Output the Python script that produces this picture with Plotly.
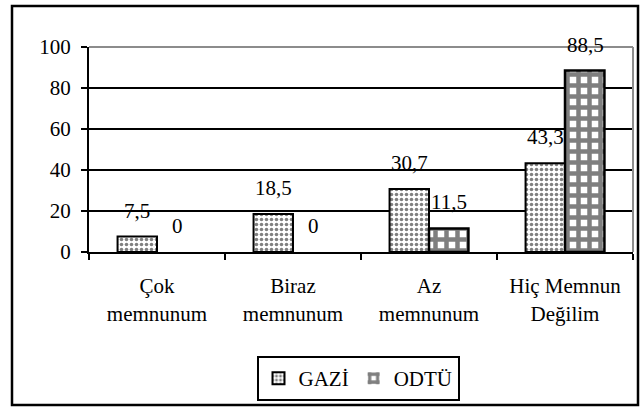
import plotly.graph_objects as go

categories = ["Çok memnunum", "Biraz memnunum", "Az memnunum", "Hiç Memnun Değilim"]
tick_labels = ["Çok<br>memnunum", "Biraz<br>memnunum", "Az<br>memnunum", "Hiç Memnun<br>Değilim"]
series_names = ["GAZİ", "ODTÜ"]
gazi_values = [7.5, 18.5, 30.7, 43.3]
odtu_values = [0, 0, 11.5, 88.5]
y_ticks = [0, 20, 40, 60, 80, 100]

FONT = "Liberation Serif, DejaVu Serif, serif"
W, H = 640, 408
L, R, T, B = 89, 7, 47, 156
pw, ph = W - L - R, H - T - B


def fmt(v):
    return f"{v:g}".replace(".", ",")


fig = go.Figure()
fig.add_trace(go.Bar(
    name=series_names[0], x=categories, y=gazi_values,
    marker=dict(color="white",
                line=dict(color="black", width=[2 if v else 0 for v in gazi_values]),
                pattern=dict(shape=".", fgcolor="black", bgcolor="white",
                             size=5, solidity=0.4, fillmode="overlay")),
))
fig.add_trace(go.Bar(
    name=series_names[1], x=categories, y=odtu_values,
    marker=dict(color="white",
                line=dict(color="black", width=[2.5 if v else 0 for v in odtu_values]),
                pattern=dict(shape="+", fgcolor="black", bgcolor="white",
                             size=11, solidity=0.65, fillmode="overlay")),
))

annotations = []
for vals, shift in ((gazi_values, -20), (odtu_values, 20)):
    for c, v in zip(categories, vals):
        annotations.append(dict(
            x=c, y=v, xref="x", yref="y", text=fmt(v), showarrow=False,
            xshift=shift, yshift=26, yanchor="middle", xanchor="center"))

shapes = [
    dict(type="line", xref="x domain", yref="y domain", x0=0, x1=1, y0=1, y1=1,
         line=dict(color="#8c8c8c", width=2), layer="above"),
    dict(type="line", xref="x domain", yref="y domain", x0=1, x1=1, y0=0, y1=1,
         line=dict(color="#8c8c8c", width=2), layer="above"),
    dict(type="rect", xref="paper", yref="paper",
         x0=(12 - L) / pw, x1=(638 - L) / pw,
         y0=(H - B - 405) / ph, y1=(H - B - 6) / ph,
         line=dict(color="black", width=2.5), fillcolor="rgba(0,0,0,0)", layer="above"),
]

fig.update_layout(
    width=W, height=H,
    margin=dict(l=L, r=R, t=T, b=B),
    paper_bgcolor="white", plot_bgcolor="white",
    barmode="group", bargap=0.42, bargroupgap=0,
    font=dict(family=FONT, size=21),
    showlegend=True,
    legend=dict(orientation="h", x=(358 - L) / pw, xanchor="center",
                y=(H - B - 356) / ph, yanchor="top",
                bordercolor="black", borderwidth=2, bgcolor="white",
                itemwidth=30, tracegroupgap=0, font=dict(color="black")),
    annotations=annotations,
    shapes=shapes,
)
fig.update_annotations(font_color="black")
fig.update_xaxes(
    type="category", tickmode="array", tickvals=categories, ticktext=tick_labels,
    tickson="boundaries", ticks="outside", ticklen=6, tickwidth=2, tickcolor="black",
    showline=True, linecolor="black", linewidth=2, showgrid=False,
    ticklabelstandoff=14, tickfont_color="black",
)
fig.update_yaxes(
    range=[0, 100], tickmode="array", tickvals=y_ticks,
    ticks="outside", ticklen=6, tickwidth=2, tickcolor="black",
    showline=True, linecolor="black", linewidth=2,
    showgrid=True, gridcolor="black", gridwidth=1.5, zeroline=False,
    ticklabelstandoff=6, tickfont_color="black",
)

fig.write_html("out.html", post_script="document.body.style.margin='0';",
               config={"displayModeBar": False})
